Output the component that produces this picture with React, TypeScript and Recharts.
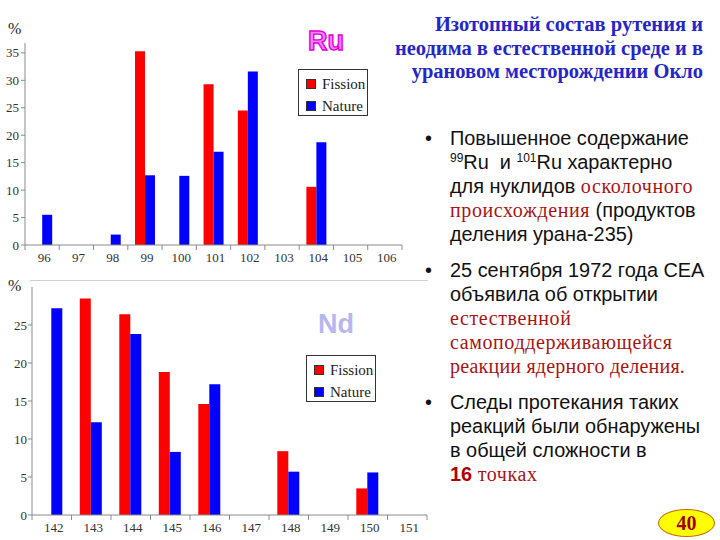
import React from 'react';
import { BarChart, Bar, XAxis, YAxis, Legend } from 'recharts';

// ---------- Data ----------
const ruIsotopes = ['96', '97', '98', '99', '100', '101', '102', '103', '104', '105', '106'];
const ruFission: (number | null)[] = [null, null, null, 35.3, null, 29.3, 24.5, null, 10.6, null, null];
const ruNature: (number | null)[] = [5.5, null, 1.9, 12.7, 12.6, 17.0, 31.6, null, 18.7, null, null];
const ruTicks = [0, 5, 10, 15, 20, 25, 30, 35];

const ndIsotopes = ['142', '143', '144', '145', '146', '147', '148', '149', '150', '151'];
const ndFission: (number | null)[] = [null, 28.5, 26.4, 18.8, 14.6, null, 8.4, null, 3.5, null];
const ndNature: (number | null)[] = [27.2, 12.2, 23.8, 8.3, 17.2, null, 5.7, null, 5.6, null];
const ndTicks = [0, 5, 10, 15, 20, 25];

const seriesNames = ['Fission', 'Nature'];
const seriesColors = ['#ff0000', '#0000ff'];

const ruData = ruIsotopes.map((iso, i) => ({ iso, fission: ruFission[i], nature: ruNature[i] }));
const ndData = ndIsotopes.map((iso, i) => ({ iso, fission: ndFission[i], nature: ndNature[i] }));

const SERIF = '"Liberation Serif", "Times New Roman", serif';
const SANS = '"Liberation Sans", Arial, sans-serif';
const AXIS = '#8a8a8a';
const RED_TEXT = '#a81414';

const makeXTick = (band: number, count: number) => (props: any) => {
  const { x, y, payload, index } = props;
  const top = y - 8;
  return (
    <g>
      <line x1={x - band / 2} x2={x - band / 2} y1={top} y2={top + 5} stroke={AXIS} />
      {index === count - 1 && (
        <line x1={x + band / 2} x2={x + band / 2} y1={top} y2={top + 5} stroke={AXIS} />
      )}
      <text x={x + 2} y={y} dy="0.71em" textAnchor="middle" fill="#333" fontFamily={SERIF} fontSize={13}>
        {payload.value}
      </text>
    </g>
  );
};

const LegendBox = (props: any) => {
  const items = props.payload || [];
  return (
    <div
      style={{
        width: 68,
        height: 45,
        border: '1.5px solid #333',
        background: '#fff',
        boxSizing: 'content-box',
        position: 'relative',
      }}
    >
      {items.map((it: any, i: number) => (
        <div
          key={i}
          style={{ position: 'absolute', left: 7, top: 5 + i * 22, height: 18, display: 'flex', alignItems: 'center' }}
        >
          <span
            style={{
              display: 'inline-block',
              width: 8,
              height: 8,
              background: it.color,
              border: '1px solid #333',
              marginRight: 6,
            }}
          />
          <span style={{ fontFamily: SERIF, fontSize: 15, color: '#222' }}>{it.value}</span>
        </div>
      ))}
    </div>
  );
};

const RU_W = 410, RU_H = 270, RU_YW = 25, RU_MR = 8;
const ND_W = 430, ND_H = 265, ND_YW = 32, ND_MR = 3;

export default function App() {
  const ruBand = (RU_W - RU_YW - RU_MR) / ruIsotopes.length;
  const ndBand = (ND_W - ND_YW - ND_MR) / ndIsotopes.length;
  const serifRed = { fontFamily: SERIF, color: RED_TEXT, fontSize: 20, letterSpacing: 0.6 };
  return (
    <div style={{ position: 'absolute', left: 0, top: 0, width: 720, height: 540, background: '#fff', overflow: 'hidden' }}>
      {/* Ru chart */}
      <div style={{ position: 'absolute', left: 0, top: 0 }}>
        <BarChart width={RU_W} height={RU_H} data={ruData} margin={{ top: 43, right: RU_MR, left: 0, bottom: 0 }} barCategoryGap="21%" barGap={0}>
          <XAxis
            dataKey="iso"
            height={25}
            tickLine={false}
            tickSize={5}
            tickMargin={3}
            axisLine={{ stroke: AXIS }}
            interval={0}
            tick={makeXTick(ruBand, ruIsotopes.length)}
          />
          <YAxis
            width={RU_YW}
            domain={[0, 36.8]}
            ticks={ruTicks}
            tickSize={4}
            tickMargin={2}
            axisLine={{ stroke: AXIS }}
            tickLine={{ stroke: AXIS }}
            tick={{ fill: '#333', fontFamily: SERIF, fontSize: 13 }}
          />
          <Legend layout="vertical" align="center" verticalAlign="middle" content={LegendBox} wrapperStyle={{ left: 298, top: 69, width: 72, height: 48 }} />
          <Bar dataKey="fission" name={seriesNames[0]} fill={seriesColors[0]} isAnimationActive={false} />
          <Bar dataKey="nature" name={seriesNames[1]} fill={seriesColors[1]} isAnimationActive={false} />
        </BarChart>
      </div>
      <div style={{ position: 'absolute', left: 8, top: 20, fontFamily: SERIF, fontSize: 16, color: '#222' }}>%</div>
      <div
        style={{
          position: 'absolute',
          left: 308,
          top: 26,
          fontFamily: SANS,
          fontWeight: 'bold',
          fontSize: 27,
          color: '#ff80ff',
          WebkitTextStroke: '1.4px #e000e0',
          lineHeight: '30px',
        }}
      >
        Ru
      </div>

      {/* Nd chart */}
      <div style={{ position: 'absolute', left: 30, top: 280, width: 398, height: 1, background: '#d0d0d0' }} />
      <div style={{ position: 'absolute', left: 0, top: 275 }}>
        <BarChart width={ND_W} height={ND_H} data={ndData} margin={{ top: 12, right: ND_MR, left: 0, bottom: 0 }} barCategoryGap="21%" barGap={0}>
          <XAxis
            dataKey="iso"
            height={25}
            tickLine={false}
            tickSize={5}
            tickMargin={3}
            axisLine={{ stroke: AXIS }}
            interval={0}
            tick={makeXTick(ndBand, ndIsotopes.length)}
          />
          <YAxis
            width={ND_YW}
            domain={[0, 30]}
            ticks={ndTicks}
            tickSize={4}
            tickMargin={1}
            axisLine={{ stroke: AXIS }}
            tickLine={{ stroke: AXIS }}
            tick={{ fill: '#333', fontFamily: SERIF, fontSize: 13 }}
          />
          <Legend layout="vertical" align="center" verticalAlign="middle" content={LegendBox} wrapperStyle={{ left: 306, top: 80, width: 72, height: 48 }} />
          <Bar dataKey="fission" name={seriesNames[0]} fill={seriesColors[0]} isAnimationActive={false} />
          <Bar dataKey="nature" name={seriesNames[1]} fill={seriesColors[1]} isAnimationActive={false} />
        </BarChart>
      </div>
      <div style={{ position: 'absolute', left: 8, top: 277, fontFamily: SERIF, fontSize: 16, color: '#222' }}>%</div>
      <div
        style={{
          position: 'absolute',
          left: 318,
          top: 309,
          fontFamily: SANS,
          fontWeight: 'bold',
          fontSize: 27,
          color: '#b6b6f0',
          lineHeight: '30px',
        }}
      >
        Nd
      </div>

      {/* Title */}
      <div
        style={{
          position: 'absolute',
          right: 17,
          top: 13,
          width: 340,
          textAlign: 'right',
          fontFamily: SERIF,
          fontWeight: 'bold',
          fontSize: 20.5,
          lineHeight: '23.5px',
          color: '#2626c8',
          whiteSpace: 'nowrap',
        }}
      >
        Изотопный состав рутения и<br />
        неодима в естественной среде и в<br />
        урановом месторождении Окло
      </div>

      {/* Bullets */}
      <div style={{ position: 'absolute', left: 425, top: 126, fontFamily: SANS, fontSize: 19.9, lineHeight: '24px', color: '#111', whiteSpace: 'nowrap' }}>
        <div style={{ position: 'relative', paddingLeft: 25 }}>
          <span style={{ position: 'absolute', left: 0 }}>•</span>
          Повышенное содержание<br />
          <sup style={{ fontSize: 12, verticalAlign: 'top', lineHeight: '16px' }}>99</sup>Ru&nbsp; и <sup style={{ fontSize: 12, verticalAlign: 'top', lineHeight: '16px' }}>101</sup>Ru характерно<br />
          для нуклидов <span style={serifRed}>осколочного</span><br />
          <span style={serifRed}>происхождения</span> (продуктов<br />
          деления урана-235)
        </div>
        <div style={{ position: 'relative', paddingLeft: 25, marginTop: 12 }}>
          <span style={{ position: 'absolute', left: 0 }}>•</span>
          25 сентября 1972 года CEA<br />
          объявила об открытии<br />
          <span style={serifRed}>
            естественной<br />
            самоподдерживающейся<br />
            <span style={{ letterSpacing: 0.2 }}>реакции ядерного деления.</span>
          </span>
        </div>
        <div style={{ position: 'relative', paddingLeft: 25, marginTop: 12 }}>
          <span style={{ position: 'absolute', left: 0 }}>•</span>
          Следы протекания таких<br />
          реакций были обнаружены<br />
          в общей сложности в<br />
          <b style={{ color: '#b00000' }}>16</b> <span style={serifRed}>точках</span>
        </div>
      </div>

      {/* Page badge */}
      <div
        style={{
          position: 'absolute',
          left: 658,
          top: 509,
          width: 55,
          height: 26,
          background: '#ffff00',
          border: '1.5px solid #c86a00',
          borderRadius: '50%',
          display: 'flex',
          alignItems: 'center',
          justifyContent: 'center',
          fontFamily: SERIF,
          fontWeight: 'bold',
          fontSize: 20,
          color: '#a00000',
        }}
      >
        40
      </div>
    </div>
  );
}
